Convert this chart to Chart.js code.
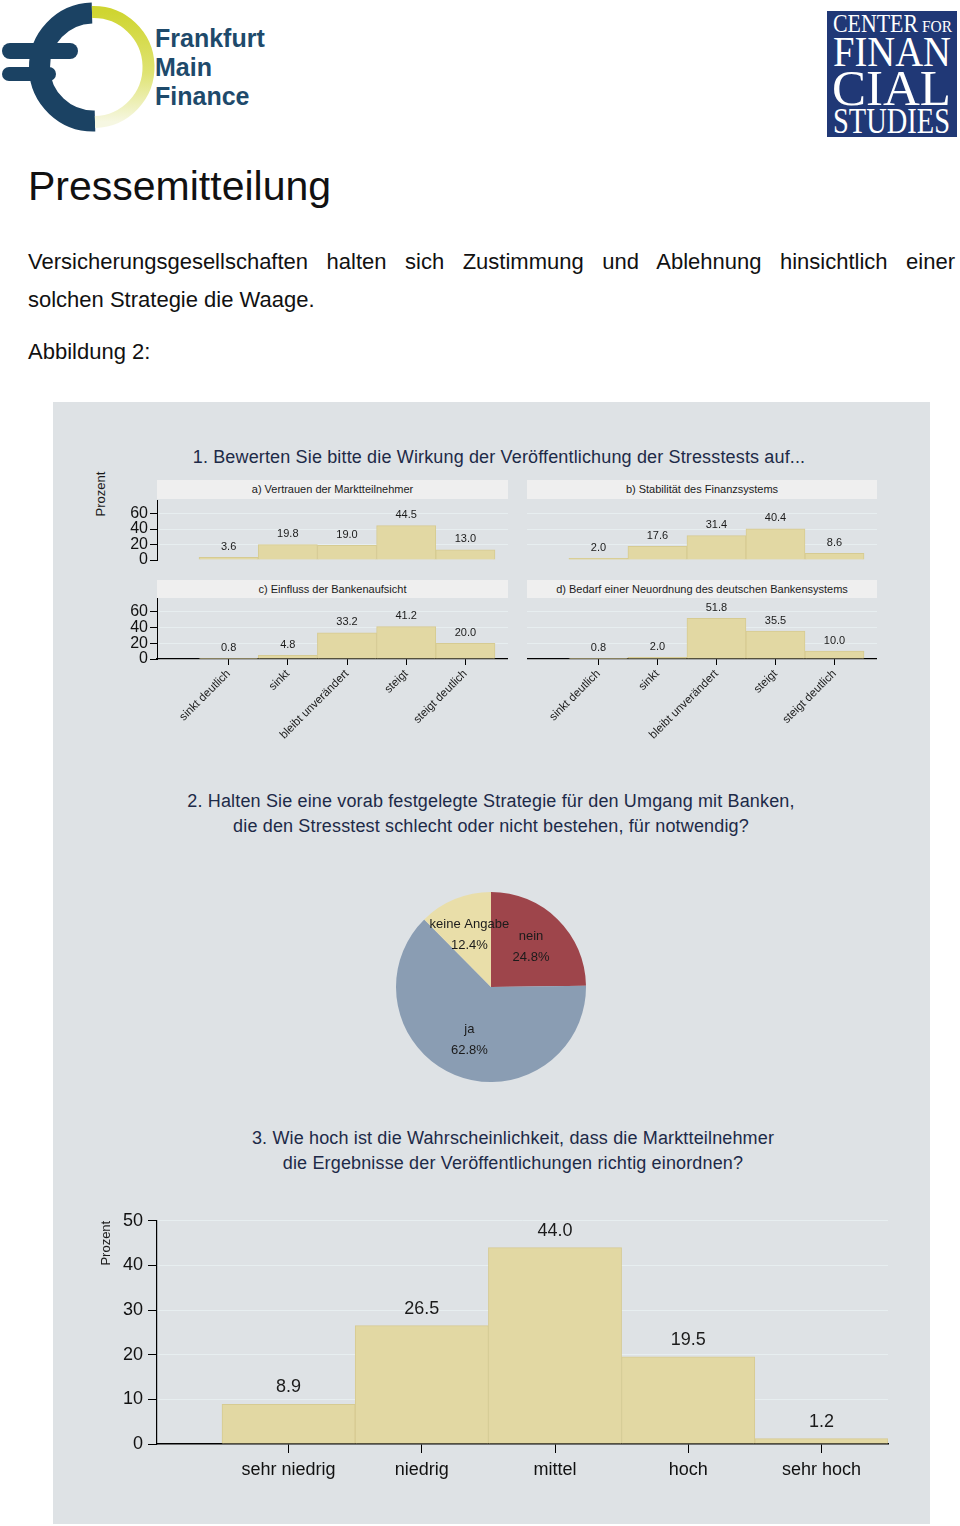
<!DOCTYPE html>
<html>
<head>
<meta charset="utf-8">
<script src="https://cdn.jsdelivr.net/npm/chart.js@4.4.0/dist/chart.umd.min.js"></script>
<style>
  body { margin: 0; width: 960px; height: 1526px; background: #fff; position: relative; overflow: hidden;
         font-family: "Liberation Sans", Arial, sans-serif; color: #111; }
  .abs { position: absolute; }
  .txt { position: absolute; left: 28px; font-size: 22px; line-height: 22px; white-space: nowrap; }
  .panel { position: absolute; left: 53px; top: 402px; width: 877px; height: 1122px; background: #dee2e5; }
  .ttl { position: absolute; font-size: 18px; line-height: 25px; letter-spacing: 0.15px; color: #1d2a48; text-align: center; white-space: nowrap; }
  .strip { position: absolute; background: #efefef; font-size: 11px; color: #1b1b1b; text-align: center; white-space: nowrap; }
  canvas { position: absolute; }
</style>
</head>
<body>

<svg class="abs" style="left:0;top:0" width="300" height="135">
  <defs>
    <linearGradient id="yel" x1="0" y1="0" x2="0" y2="1">
      <stop offset="0" stop-color="#cfd531"/>
      <stop offset="0.55" stop-color="#dfe372"/>
      <stop offset="1" stop-color="#f6f7e2"/>
    </linearGradient>
  </defs>
  <path d="M 92 13 A 54 54 0 1 0 95 121" fill="none" stroke="#1b4263" stroke-width="21"/>
  <path d="M 92 12 A 55 55 0 0 1 95 122" fill="none" stroke="url(#yel)" stroke-width="12"/>
  <rect x="2" y="43" width="76" height="16" rx="8" fill="#1b4263"/>
  <rect x="2" y="67" width="54" height="14" rx="7" fill="#1b4263"/>
  <text x="155" y="47" font-family="Liberation Sans, Arial" font-weight="bold" font-size="25" fill="#1e4a6b">Frankfurt</text>
  <text x="155" y="76" font-family="Liberation Sans, Arial" font-weight="bold" font-size="25" fill="#1e4a6b">Main</text>
  <text x="155" y="105" font-family="Liberation Sans, Arial" font-weight="bold" font-size="25" fill="#1e4a6b">Finance</text>
</svg>

<svg class="abs" style="left:827px;top:11px" width="130" height="126">
  <rect x="0" y="0" width="130" height="126" fill="#203876"/>
  <g font-family="Liberation Serif, Times New Roman, serif" fill="#fff">
    <text x="6" y="21" font-size="25" textLength="85" lengthAdjust="spacingAndGlyphs">CENTER</text>
    <text x="95" y="21" font-size="17" textLength="30" lengthAdjust="spacingAndGlyphs">FOR</text>
    <text x="6" y="55" font-size="42" textLength="118" lengthAdjust="spacingAndGlyphs">FINAN</text>
    <text x="5" y="94" font-size="50" textLength="119" lengthAdjust="spacingAndGlyphs">CIAL</text>
    <text x="6" y="122" font-size="36" textLength="117" lengthAdjust="spacingAndGlyphs">STUDIES</text>
  </g>
</svg>

<div class="abs" style="left:28px;top:166px;font-size:41px;line-height:41px;white-space:nowrap">Pressemitteilung</div>
<div class="txt" style="top:251px;width:927px;text-align:justify;text-align-last:justify">Versicherungsgesellschaften halten sich Zustimmung und Ablehnung hinsichtlich einer</div>
<div class="txt" style="top:289px">solchen Strategie die Waage.</div>
<div class="txt" style="top:341px">Abbildung 2:</div>

<div class="panel"></div>

<div class="ttl" style="left:99px;top:445px;width:800px">1. Bewerten Sie bitte die Wirkung der Veröffentlichung der Stresstests auf...</div>
<div class="abs" style="left:71px;top:486px;width:60px;height:16px;font-size:13px;line-height:16px;color:#1b1b1b;text-align:center;transform:rotate(-90deg)">Prozent</div>

<div class="strip" style="left:157px;top:480px;width:351px;height:19px;line-height:19px">a) Vertrauen der Marktteilnehmer</div>
<div class="strip" style="left:527px;top:480px;width:350px;height:19px;line-height:19px">b) Stabilität des Finanzsystems</div>
<div class="strip" style="left:157px;top:580px;width:351px;height:18px;line-height:18px">c) Einfluss der Bankenaufsicht</div>
<div class="strip" style="left:527px;top:580px;width:350px;height:18px;line-height:18px">d) Bedarf einer Neuordnung des deutschen Bankensystems</div>

<canvas id="chartA" width="411" height="82" style="left:97px;top:490px"></canvas>
<canvas id="chartB" width="350" height="82" style="left:527px;top:490px"></canvas>
<canvas id="chartC" width="411" height="161" style="left:97px;top:588px"></canvas>
<canvas id="chartD" width="350" height="161" style="left:527px;top:588px"></canvas>

<div class="ttl" style="left:91px;top:789px;width:800px">2. Halten Sie eine vorab festgelegte Strategie für den Umgang mit Banken,<br>die den Stresstest schlecht oder nicht bestehen, für notwendig?</div>
<canvas id="pieChart" width="190" height="190" style="left:396px;top:892px"></canvas>

<div class="ttl" style="left:113px;top:1126px;width:800px">3. Wie hoch ist die Wahrscheinlichkeit, dass die Marktteilnehmer<br>die Ergebnisse der Veröffentlichungen richtig einordnen?</div>
<canvas id="bigChart" width="803" height="282" style="left:95px;top:1205px"></canvas>

<script>
const answerLabels = ['sinkt deutlich', 'sinkt', 'bleibt unverändert', 'steigt', 'steigt deutlich'];
const vertrauenValues = [3.6, 19.8, 19.0, 44.5, 13.0];
const stabilitaetValues = [2.0, 17.6, 31.4, 40.4, 8.6];
const aufsichtValues = [0.8, 4.8, 33.2, 41.2, 20.0];
const neuordnungValues = [0.8, 2.0, 51.8, 35.5, 10.0];
const smallTicks = [0, 20, 40, 60];

const pieLabels = ['nein', 'ja', 'keine Angabe'];
const pieValues = [24.8, 62.8, 12.4];

const probLabels = ['sehr niedrig', 'niedrig', 'mittel', 'hoch', 'sehr hoch'];
const probValues = [8.9, 26.5, 44.0, 19.5, 1.2];
const bigTicks = [0, 10, 20, 30, 40, 50];

const FONT = '"Liberation Sans", Arial, sans-serif';
const barFill = '#e2d8a3';
const barEdge = '#d6cb92';
const gridColor = '#e7eef0';
Chart.defaults.font.family = FONT;
Chart.defaults.color = '#111';

// numbers above the bars, placed from the bar elements
const valueLabels = {
  id: 'valueLabels',
  afterDatasetsDraw(chart, args, opts) {
    const ctx = chart.ctx;
    const meta = chart.getDatasetMeta(0);
    const data = chart.data.datasets[0].data;
    ctx.save();
    ctx.font = opts.size + 'px ' + FONT;
    ctx.fillStyle = '#1b1b1b';
    ctx.textAlign = 'center';
    ctx.textBaseline = 'bottom';
    meta.data.forEach((bar, i) => {
      ctx.fillText(data[i].y.toFixed(1), bar.x, bar.y - opts.gap);
    });
    ctx.restore();
  }
};

function smallChart(id, values, showY, showX) {
  return new Chart(document.getElementById(id), {
    type: 'bar',
    data: {
      datasets: [{
        data: values.map((v, i) => ({ x: i, y: v })),
        backgroundColor: barFill,
        borderColor: barEdge,
        borderWidth: 1,
        barPercentage: 1,
        categoryPercentage: 1
      }]
    },
    options: {
      responsive: false,
      animation: false,
      layout: { padding: { top: 10, bottom: showX ? 0 : 12, left: 0, right: 0 } },
      plugins: { legend: { display: false }, tooltip: { enabled: false }, valueLabels: { size: 11, gap: 5 } },
      scales: {
        x: {
          type: 'linear', min: -1.21, max: 4.72, offset: false,
          display: showX,
          afterBuildTicks: a => { a.ticks = answerLabels.map((_, i) => ({ value: i })); },
          afterFit: a => { if (showX) a.height = 90; },
          border: { display: true, color: '#000', width: 1.2 },
          grid: { drawOnChartArea: false, drawTicks: true, tickLength: 6, tickColor: '#000', offset: false },
          ticks: { autoSkip: false, minRotation: 45, maxRotation: 45, padding: 2, font: { size: 11.5 }, color: '#1b1b1b',
                   callback: v => answerLabels[v] }
        },
        y: {
          min: 0, max: 77.5,
          afterBuildTicks: a => { a.ticks = smallTicks.map(v => ({ value: v })); },
          afterFit: a => { a.width = showY ? 60 : 0; },
          border: { display: showY, color: '#000', width: 1 },
          grid: { color: c => c.tick && c.tick.value === 0 ? 'rgba(0,0,0,0)' : gridColor,
                  drawTicks: showY, tickLength: 7, tickColor: '#000' },
          ticks: { display: showY, autoSkip: false, padding: 2, font: { size: 16, lineHeight: 1 }, color: '#111' }
        }
      }
    },
    plugins: [valueLabels]
  });
}

window.onload = function () {
  smallChart('chartA', vertrauenValues, true, false);
  smallChart('chartB', stabilitaetValues, false, false);
  smallChart('chartC', aufsichtValues, true, true);
  smallChart('chartD', neuordnungValues, false, true);

  new Chart(document.getElementById('pieChart'), {
    type: 'pie',
    data: {
      labels: pieLabels,
      datasets: [{ data: pieValues, backgroundColor: ['#9e454b', '#8a9db3', '#e9dea9'], borderWidth: 0 }]
    },
    options: {
      responsive: false,
      animation: false,
      layout: { padding: 0 },
      plugins: { legend: { display: false }, tooltip: { enabled: false } }
    },
    plugins: [{
      id: 'pieText',
      afterDatasetsDraw(chart) {
        const ctx = chart.ctx;
        const meta = chart.getDatasetMeta(0);
        ctx.save();
        ctx.font = '13px ' + FONT;
        ctx.fillStyle = '#1b1b1b';
        ctx.textAlign = 'center';
        ctx.textBaseline = 'middle';
        meta.data.forEach((arc, i) => {
          const mid = (arc.startAngle + arc.endAngle) / 2;
          const r = arc.outerRadius * 0.6;
          const x = arc.x + Math.cos(mid) * r;
          const y = arc.y + Math.sin(mid) * r;
          ctx.fillText(pieLabels[i], x, y - 10);
          ctx.fillText(pieValues[i].toFixed(1) + '%', x, y + 11);
        });
        ctx.restore();
      }
    }]
  });

  new Chart(document.getElementById('bigChart'), {
    type: 'bar',
    data: {
      datasets: [{
        data: probValues.map((v, i) => ({ x: i, y: v })),
        backgroundColor: barFill,
        borderColor: barEdge,
        borderWidth: 1,
        barPercentage: 1,
        categoryPercentage: 1
      }]
    },
    options: {
      responsive: false,
      animation: false,
      layout: { padding: { top: 12, right: 10, left: 0, bottom: 0 } },
      plugins: { legend: { display: false }, tooltip: { enabled: false }, valueLabels: { size: 18, gap: 8 } },
      scales: {
        x: {
          type: 'linear', min: -0.988, max: 4.5, offset: false,
          afterBuildTicks: a => { a.ticks = probLabels.map((_, i) => ({ value: i })); },
          afterFit: a => { a.height = 43; },
          border: { display: true, color: '#000', width: 1.5 },
          grid: { drawOnChartArea: false, drawTicks: true, tickLength: 9, tickColor: '#000', offset: false },
          ticks: { autoSkip: false, maxRotation: 0, padding: 6, font: { size: 18 }, color: '#111',
                   callback: v => probLabels[v] }
        },
        y: {
          min: 0, max: 50,
          afterBuildTicks: a => { a.ticks = bigTicks.map(v => ({ value: v })); },
          afterFit: a => { a.width = 62; },
          border: { display: true, color: '#000', width: 1.2 },
          title: { display: true, text: 'Prozent', align: 'end', font: { size: 13 }, color: '#1b1b1b', padding: { top: 4, bottom: 4 } },
          grid: { color: c => c.tick && c.tick.value === 0 ? 'rgba(0,0,0,0)' : gridColor,
                  drawTicks: true, tickLength: 9, tickColor: '#000' },
          ticks: { autoSkip: false, padding: 5, font: { size: 18 }, color: '#111' }
        }
      }
    },
    plugins: [valueLabels]
  });
};
</script>
</body>
</html>
